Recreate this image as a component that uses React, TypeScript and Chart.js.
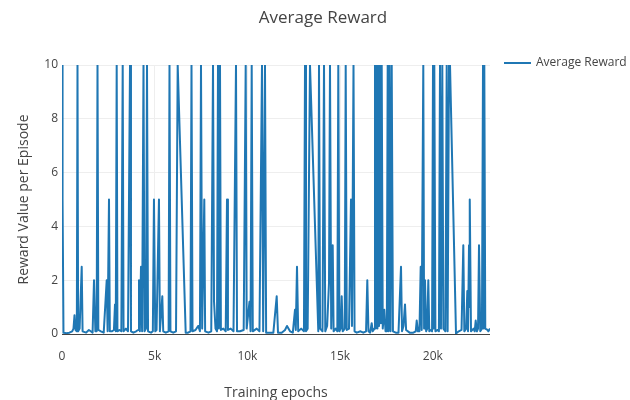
import React, { useEffect, useRef } from "react";
import { Chart, registerables } from "chart.js";

Chart.register(...registerables);

const chartTitle = "Average Reward";
const seriesName = "Average Reward";
const xTitle = "Training epochs";
const yTitle = "Reward Value per Episode";
const xTickValues = [0, 5000, 10000, 15000, 20000];
const yTickValues = [0, 2, 4, 6, 8, 10];
const xMax = 23085;

const epochs = [
  0, 30, 80, 250, 400, 550, 620, 675, 730, 800, 836, 870, 950, 1063, 1110, 1300, 1450, 1550, 1650, 1726,
  1800, 1870, 1915, 1960, 2100, 2250, 2411, 2460, 2535, 2580, 2700, 2800, 2859, 2900, 2950, 2990, 3100, 3200, 3274, 3320,
  3450, 3560, 3668, 3720, 3850, 4000, 4100, 4153, 4200, 4261, 4320, 4396, 4450, 4530, 4585, 4640, 4800, 4900, 4960, 5030,
  5100, 5230, 5280, 5410, 5460, 5600, 5750, 5798, 5850, 6000, 6150, 6240, 6672, 6800, 6930, 6985, 7040, 7200, 7350, 7440,
  7497, 7560, 7675, 7720, 7900, 8050, 8145, 8200, 8280, 8360, 8414, 8460, 8522, 8570, 8700, 8830, 8900, 8950, 9100, 9250,
  9385, 9440, 9600, 9800, 9908, 9960, 10113, 10170, 10232, 10290, 10500, 10650, 10787, 10850, 10949, 11010, 11200, 11400, 11580, 11650,
  11850, 12030, 12136, 12300, 12450, 12567, 12610, 12675, 12740, 12900, 13050, 13107, 13160, 13250, 13376, 13824, 13862, 13920, 14050, 14132,
  14200, 14300, 14401, 14455, 14520, 14601, 14650, 14760, 14850, 14903, 14960, 15030, 15086, 15140, 15250, 15302, 15360, 15480, 15588, 15640,
  15723, 15780, 15900, 16100, 16250, 16400, 16467, 16530, 16620, 16704, 16760, 16850, 16882, 16920, 16974, 17015, 17060, 17100, 17152, 17200,
  17244, 17300, 17384, 17450, 17520, 17567, 17610, 17665, 17720, 17784, 17850, 18000, 18150, 18285, 18340, 18420, 18500, 18560, 18750, 18950,
  19080, 19132, 19200, 19280, 19347, 19400, 19487, 19530, 19579, 19640, 19700, 19757, 19810, 19900, 19960, 20011, 20045, 20081, 20140, 20260,
  20330, 20388, 20440, 20512, 20570, 20680, 20750, 20800, 20874, 20928, 21251, 21400, 21550, 21645, 21700, 21800, 21861, 21900, 21953, 21980,
  22006, 22060, 22200, 22260, 22314, 22380, 22440, 22492, 22560, 22650, 22708, 22740, 22778, 22830, 22950, 23000, 23085,
];

const rewards = [
  10, 5, 0.05, 0.03, 0.05, 0.1, 0.2, 0.7, 0.15, 0.1, 10, 0.1, 0.2, 2.5, 0.1, 0.05, 0.15, 0.1, 0.05, 2,
  0.1, 0.1, 10, 0.15, 0.1, 0.05, 2, 0.1, 5, 0.1, 0.1, 0.15, 1.1, 0.1, 10, 0.1, 0.15, 0.1, 10, 0.1,
  0.2, 0.1, 10, 0.1, 0.05, 0.1, 0.15, 2, 0.1, 2.5, 0.1, 10, 0.1, 0.2, 10, 0.1, 0.05, 0.1, 5, 0.1,
  0.15, 5, 0.1, 1.4, 0.1, 0.05, 0.1, 10, 0.1, 0.05, 0.1, 10, 0.05, 0.05, 0.1, 10, 0.1, 0.15, 0.3, 0.1,
  10, 0.2, 5, 0.1, 0.05, 0.1, 10, 1.2, 0.2, 0.1, 10, 0.2, 10, 0.15, 0.2, 0.1, 5, 0.15, 0.2, 0.1,
  10, 0.1, 0.1, 0.15, 10, 0.2, 1.2, 0.1, 10, 0.1, 0.2, 0.1, 10, 0.1, 10, 0.05, 0.05, 0.05, 1.4, 0.05,
  0.05, 0.15, 0.3, 0.1, 0.05, 0.9, 0.15, 2.5, 0.1, 0.2, 0.1, 10, 0.1, 0.2, 10, 0.1, 10, 0.2, 0.1, 10,
  0.1, 0.3, 1.9, 10, 0.2, 3.3, 0.1, 0.2, 0.1, 10, 0.1, 0.2, 1.4, 0.1, 0.2, 10, 0.15, 0.2, 5, 0.3,
  10, 0.1, 0.05, 0.1, 0.05, 0.1, 2, 0.1, 0.05, 0.4, 0.1, 0.2, 10, 0.2, 10, 0.2, 10, 0.3, 10, 0.4,
  10, 0.2, 0.9, 0.1, 0.1, 10, 0.1, 10, 0.1, 10, 0.1, 0.05, 0.05, 2.5, 0.1, 0.3, 1.1, 0.15, 0.05, 0.05,
  0.1, 0.5, 0.1, 0.1, 2.5, 0.15, 10, 0.2, 2, 0.1, 0.2, 2, 0.1, 0.15, 0.1, 10, 0.2, 10, 0.1, 0.15,
  0.1, 10, 0.2, 10, 0.2, 0.1, 10, 0.1, 10, 10, 0.02, 0.1, 0.15, 3.3, 0.1, 0.2, 1.6, 0.1, 3.3, 1,
  5, 0.1, 0.2, 0.1, 0.5, 0.1, 0.2, 3.3, 0.1, 0.2, 10, 0.2, 10, 0.2, 0.15, 0.1, 0.2,
];

const lineColor = "#1f77b4";
const textColor = "#444";
const gridColor = "#eee";
const fontFamily = '"Open Sans", "DejaVu Sans", sans-serif';

const overlayPlugin = {
  id: "plotlyOverlay",
  afterDraw(chart: any) {
    const ctx = chart.ctx;
    const area = chart.chartArea;
    ctx.save();
    ctx.fillStyle = textColor;
    ctx.font = `17px ${fontFamily}`;
    ctx.textAlign = "center";
    ctx.textBaseline = "middle";
    ctx.fillText(chartTitle, chart.width / 2 + 8, 18);
    const lx = area.right + 14;
    const ly = area.top - 2;
    ctx.strokeStyle = lineColor;
    ctx.lineWidth = 2;
    ctx.beginPath();
    ctx.moveTo(lx, ly);
    ctx.lineTo(lx + 27, ly);
    ctx.stroke();
    ctx.font = `12px ${fontFamily}`;
    ctx.textAlign = "left";
    ctx.fillText(seriesName, lx + 32, ly);
    ctx.restore();
  },
};

export default function App() {
  const ref = useRef<HTMLCanvasElement>(null);
  useEffect(() => {
    document.body.style.margin = "0";
    const canvas = ref.current;
    if (!canvas) return;
    const chart = new Chart(canvas, {
      type: "line",
      data: {
        datasets: [
          {
            label: seriesName,
            data: epochs.map((x, i) => ({ x, y: rewards[i] })),
            borderColor: lineColor,
            backgroundColor: lineColor,
            borderWidth: 2,
            pointRadius: 0,
            tension: 0,
            borderJoinStyle: "round",
            fill: false,
          },
        ],
      },
      options: {
        animation: false,
        responsive: false,
        devicePixelRatio: 1,
        layout: { padding: { top: 65, right: 140, left: 0, bottom: 0 } },
        plugins: {
          legend: { display: false },
          title: { display: false },
          tooltip: { enabled: false },
        },
        scales: {
          x: {
            type: "linear",
            min: 0,
            max: xMax,
            afterBuildTicks: (s: any) => {
              s.ticks = xTickValues.map((v) => ({ value: v }));
            },
            afterFit: (s: any) => {
              s.height = 66;
            },
            ticks: {
              color: textColor,
              font: { family: fontFamily, size: 12 },
              padding: 15,
              maxRotation: 0,
              callback: (v: any) => (v === 0 ? "0" : `${v / 1000}k`),
            },
            grid: { color: gridColor, drawTicks: false },
            border: { display: false },
            title: {
              display: true,
              text: xTitle,
              color: textColor,
              font: { family: fontFamily, size: 14 },
              padding: { top: 0, bottom: -1 },
            },
          },
          y: {
            min: 0,
            max: 10,
            afterBuildTicks: (s: any) => {
              s.ticks = yTickValues.map((v) => ({ value: v }));
            },
            afterFit: (s: any) => {
              s.width = 62;
            },
            ticks: {
              color: textColor,
              font: { family: fontFamily, size: 12 },
              padding: 4,
            },
            grid: {
              color: (c: any) => (c.tick && c.tick.value === 0 ? textColor : gridColor),
              drawTicks: false,
            },
            border: { display: false },
            title: {
              display: true,
              text: yTitle,
              color: textColor,
              font: { family: fontFamily, size: 14 },
              padding: { top: 16, bottom: 0 },
            },
          },
        },
      },
      plugins: [overlayPlugin],
    });
    return () => chart.destroy();
  }, []);
  return (
    <div style={{ position: "absolute", left: 0, top: 0, width: 630, height: 400 }}>
      <canvas ref={ref} width={630} height={400} />
    </div>
  );
}
